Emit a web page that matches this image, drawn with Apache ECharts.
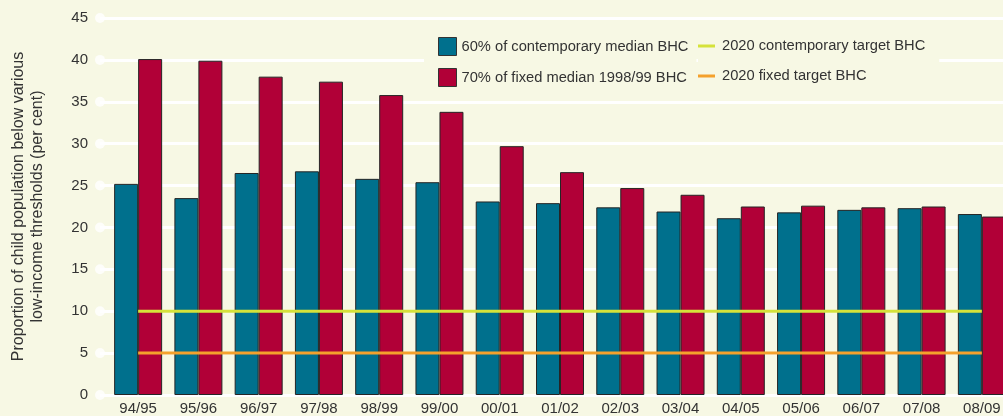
<!DOCTYPE html>
<html><head><meta charset="utf-8">
<script src="https://cdn.jsdelivr.net/npm/echarts@6/dist/echarts.min.js"></script>
<style>html,body{margin:0;padding:0;background:#f7f8e4;}#c{width:1003px;height:416px;}</style>
</head><body><div id="c"></div>
<script>
const categories = ['94/95','95/96','96/97','97/98','98/99','99/00','00/01','01/02','02/03','03/04','04/05','05/06','06/07','07/08','08/09'];
const contemporary60 = [25.2,23.5,26.5,26.7,25.8,25.4,23.1,22.9,22.4,21.9,21.1,21.8,22.1,22.3,21.6];
const fixed70 = [40.1,39.9,38.0,37.4,35.8,33.8,29.7,26.6,24.7,23.9,22.5,22.6,22.4,22.5,21.3];
const contemporaryTarget = 10;
const fixedTarget = 5;
const yTicks = [0,5,10,15,20,25,30,35,40,45];

const bg = '#f7f8e4';
const font = 'Liberation Sans, Arial, sans-serif';
const chart = echarts.init(document.getElementById('c'));
chart.setOption({
  backgroundColor: bg,
  animation: false,
  textStyle: {fontFamily: font},
  grid: [
    {left: 108, top: 18, width: 904, height: 377, outerBoundsMode: 'none', containLabel: false},
    {left: 100, top: 18, width: 912, height: 377, outerBoundsMode: 'none', containLabel: false}
  ],
  legend: [
    {data: ['60% of contemporary median BHC','70% of fixed median 1998/99 BHC'],
     orient: 'vertical', left: 424, top: 37, icon: 'rect', itemWidth: 18, itemHeight: 18, itemGap: 12,
     itemStyle: {borderColor: '#333', borderWidth: 1},
     textStyle: {fontSize: 14.7, color: '#333', fontFamily: font},
     backgroundColor: bg, padding: [0, 8, 0, 14]},
    {data: ['2020 contemporary target BHC','2020 fixed target BHC'],
     orient: 'vertical', left: 698, top: 37, icon: 'rect', itemWidth: 17, itemHeight: 3, itemGap: 12,
     textStyle: {fontSize: 14.7, color: '#333', fontFamily: font, lineHeight: 18, padding: [0, 0, 0, 2]},
     backgroundColor: bg, padding: [0, 14, 0, 0]}
  ],
  xAxis: [
    {type: 'category', gridIndex: 0, data: categories, boundaryGap: true,
     axisLine: {show: false}, axisTick: {show: false},
     axisLabel: {color: '#333', fontSize: 15, margin: 6, fontFamily: font, interval: 0}},
    {type: 'value', gridIndex: 1, min: 0, max: 1, show: false}
  ],
  yAxis: [
    {type: 'value', gridIndex: 0, min: 0, max: 45, interval: 5, show: false},
    {type: 'value', gridIndex: 1, min: 0, max: 45, interval: 5,
     axisLine: {show: false}, axisTick: {show: false},
     axisLabel: {color: '#333', fontSize: 15, margin: 12, fontFamily: font},
     splitLine: {show: true, lineStyle: {color: '#ffffff', width: 3}},
     name: 'Proportion of child population below various\nlow-income thresholds (per cent)',
     nameLocation: 'middle', nameGap: 53, nameRotate: 90,
     nameTextStyle: {color: '#333', fontSize: 16, lineHeight: 19, fontFamily: font}}
  ],
  series: [
    {type: 'scatter', xAxisIndex: 1, yAxisIndex: 1, data: yTicks.map(v => [0, v]),
     symbol: 'circle', symbolSize: 10, itemStyle: {color: '#ffffff'}, silent: true, z: 1},
    {name: '60% of contemporary median BHC', type: 'bar', xAxisIndex: 0, yAxisIndex: 0,
     data: contemporary60, barWidth: 24, barGap: '0%',
     itemStyle: {color: '#00708d', borderColor: '#252525', borderWidth: 1}, z: 2},
    {name: '70% of fixed median 1998/99 BHC', type: 'bar', xAxisIndex: 0, yAxisIndex: 0,
     data: fixed70, barWidth: 24, barGap: '0%',
     itemStyle: {color: '#b10037', borderColor: '#252525', borderWidth: 1}, z: 2},
    {name: '2020 contemporary target BHC', type: 'line', xAxisIndex: 0, yAxisIndex: 0,
     data: categories.map(() => contemporaryTarget), symbol: 'none',
     lineStyle: {color: '#d5e23a', width: 3}, itemStyle: {color: '#d5e23a'}, z: 3},
    {name: '2020 fixed target BHC', type: 'line', xAxisIndex: 0, yAxisIndex: 0,
     data: categories.map(() => fixedTarget), symbol: 'none',
     lineStyle: {color: '#f4a12c', width: 3}, itemStyle: {color: '#f4a12c'}, z: 3}
  ]
});
</script></body></html>
